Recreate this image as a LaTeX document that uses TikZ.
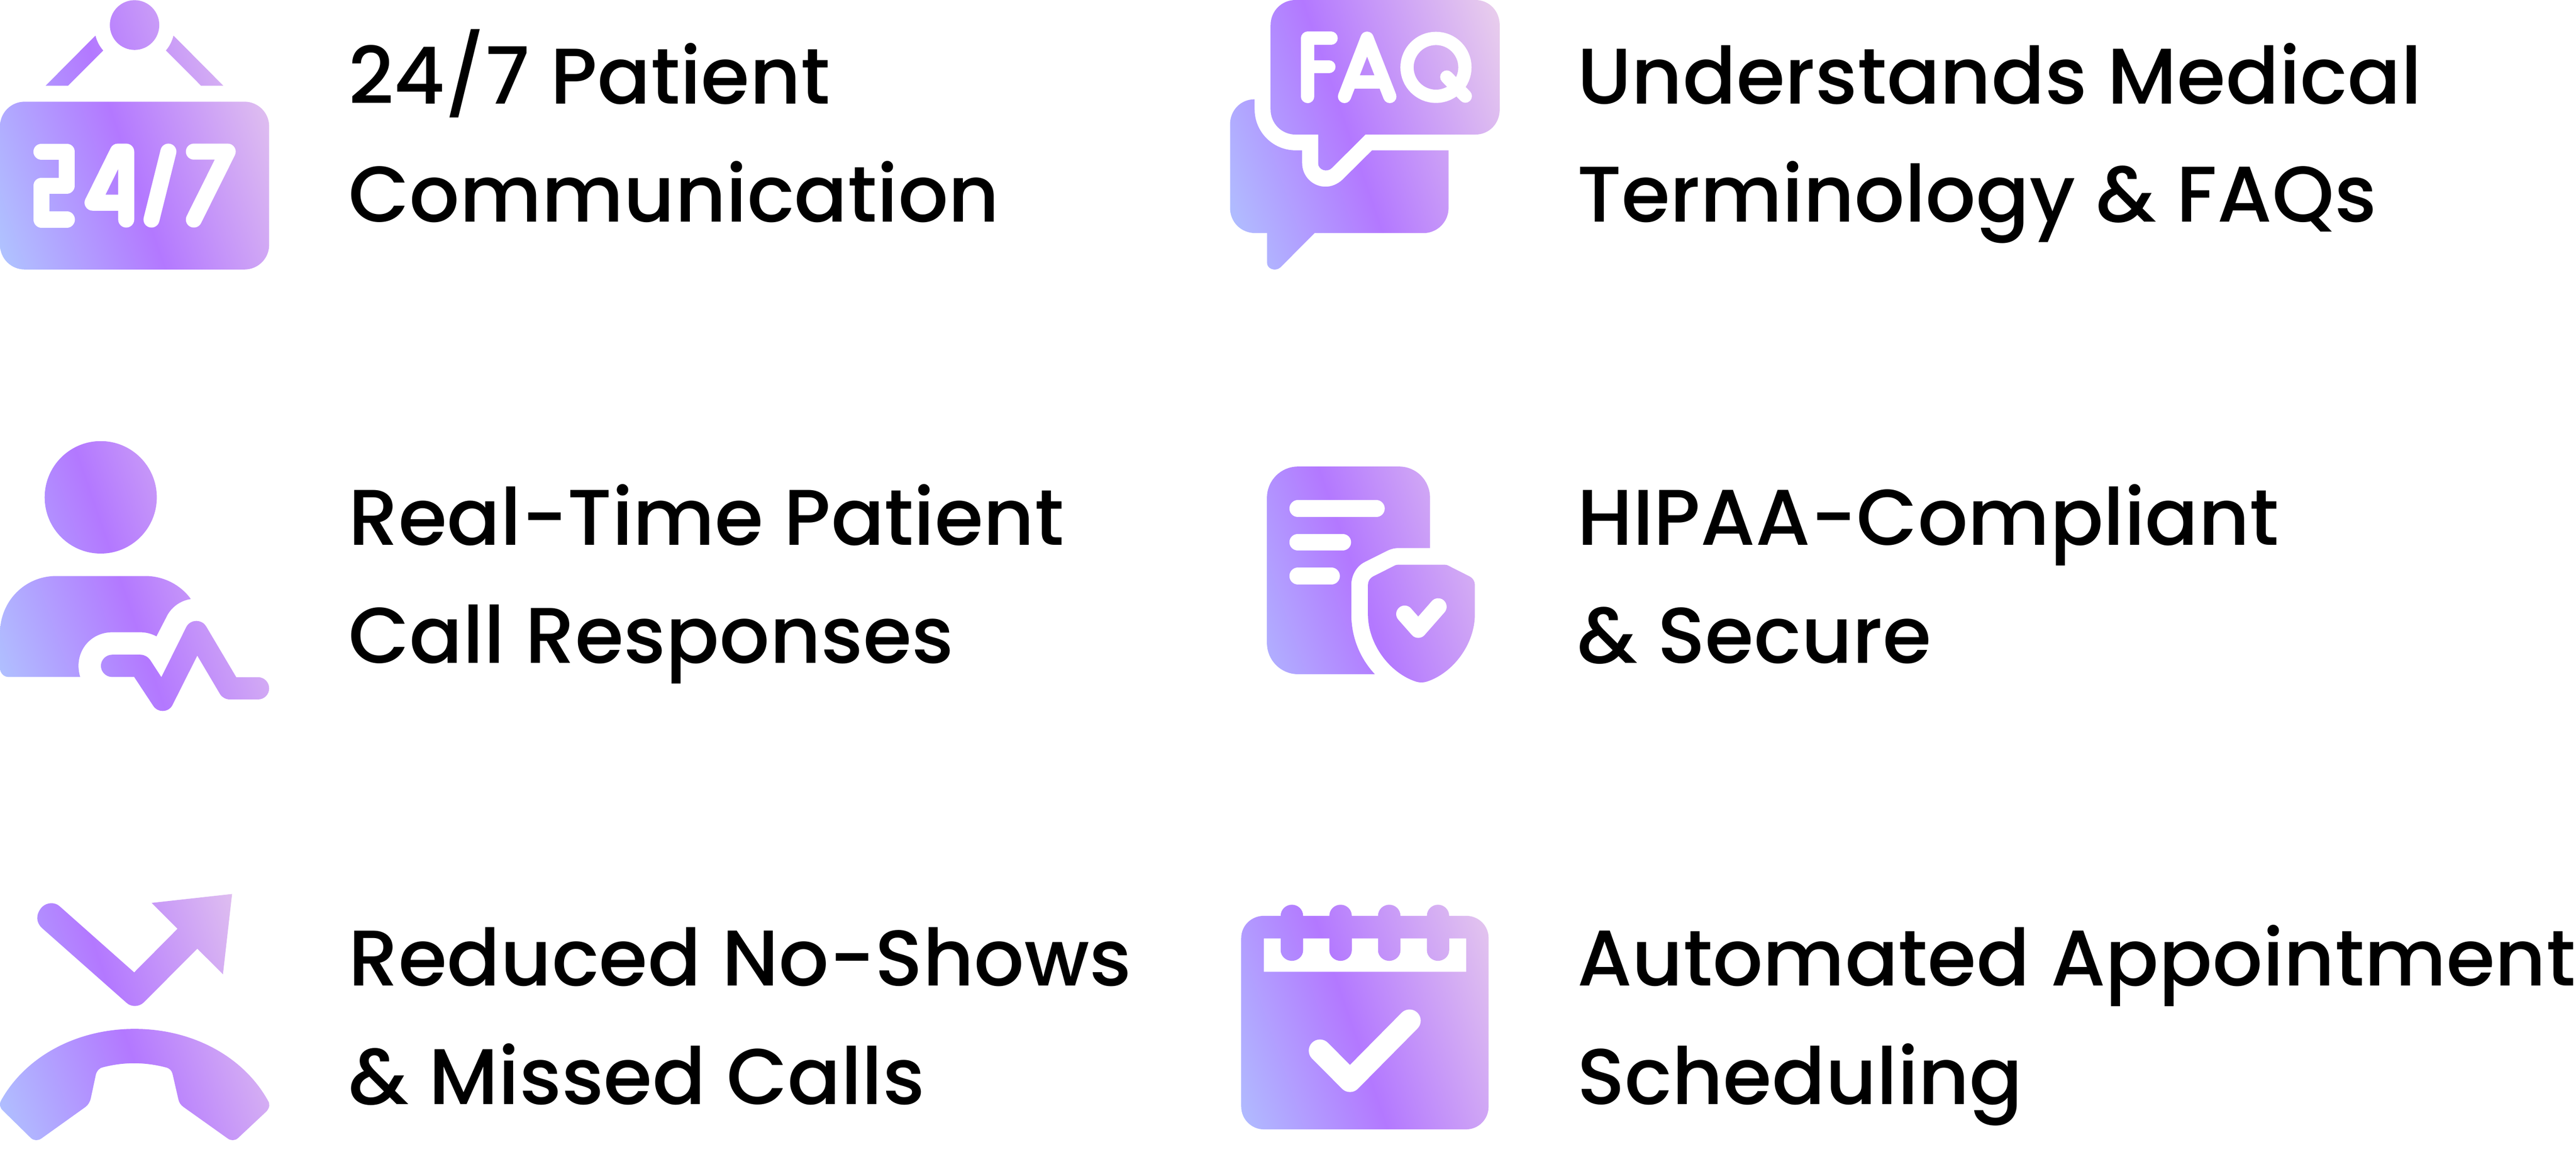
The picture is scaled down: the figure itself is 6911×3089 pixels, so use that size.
\documentclass[tikz,border=0pt]{standalone}
\usepackage{fontspec}
\setmainfont{Poppins}[UprightFont=* Medium]
\definecolor{gA}{HTML}{B0C6FF}
\definecolor{gB}{HTML}{B378FF}
\definecolor{gC}{HTML}{EAD0EC}
\pgfdeclarehorizontalshading{iconfade}{100bp}{color(0bp)=(gA); color(27bp)=(gA); color(48bp)=(gB); color(73bp)=(gC); color(100bp)=(gC)}
\newcommand{\iconfill}[2]{\shade[shading=iconfade, shading angle=19] ({#1-500},{#2-500}) rectangle ({#1+500},{#2+500});}
\tikzset{
  x=0.01cm, y=-0.01cm,
  caption/.style={anchor=base west, inner sep=0pt, outer sep=0pt, font=\fontsize{60.2pt}{70pt}\selectfont, text=black},
  za/.style={shift={(0,0)}, x=0.005102cm, y=-0.004975cm},
  zb/.style={shift={(3240,0)}, x=0.005357cm, y=-0.004975cm},
  zc/.style={shift={(0,1150)}, x=0.005102cm, y=-0.004975cm},
  zd/.style={shift={(3300,1200)}, x=0.004847cm, y=-0.004337cm},
  ze/.style={shift={(0,2340)}, x=0.005102cm, y=-0.004778cm},
  zf/.style={shift={(3280,2380)}, x=0.004847cm, y=-0.004521cm},
  mark stroke/.style={draw=white, line cap=round, line join=round},
}
\begin{document}
\begin{tikzpicture}
\useasboundingbox (0,0) rectangle (6911,3089);
\fill[white] (0,0) rectangle (6911,3089);

% ---- 24/7 sign
\begin{scope}
\clip[za] (708,135) circle [x radius=130, y radius=134]
  (240,462) -- (502,192) .. controls (510,222) and (522,248) .. (543,272) -- (358,462) -- cycle
  (1175,462) -- (913,192) .. controls (905,222) and (893,248) .. (873,272) -- (1058,462) -- cycle
  [rounded corners=0.66cm] (0,548) -- (1416,548) -- (1416,1452) -- (0,1452) -- cycle;
\iconfill{361}{361}
\end{scope}
\begin{scope}[za, mark stroke, line width=0.43cm]
\draw (218,817) -- (352,817) -- (352,1000) -- (218,1000) -- (218,1183) -- (352,1183);
\draw (664,1183) -- (664,817) -- (620,817) -- (487,1092) -- (664,1092);
\draw (886,817) -- (797,1183);
\draw (1020,817) -- (1198,817) -- (1020,1183);
\end{scope}

% ---- FAQ bubbles
\begin{scope}
\clip[zb] (440,0) -- (1340,0) .. controls (1410,0) and (1462,60) .. (1462,135) -- (1462,590) .. controls (1462,665) and (1410,725) .. (1340,725) -- (790,725) -- (622,905) .. controls (598,932) and (553,915) .. (553,880) -- (553,725) -- (440,725) .. controls (370,725) and (315,665) .. (315,590) -- (315,135) .. controls (315,60) and (370,0) .. (440,0) -- cycle
 (235,535) .. controls (165,535) and (112,595) .. (112,670) -- (112,1120) .. controls (112,1195) and (165,1256) .. (240,1256) -- (297,1256) -- (297,1415) .. controls (297,1450) and (340,1465) .. (365,1440) -- (535,1256) -- (1080,1256) .. controls (1150,1256) and (1206,1195) .. (1206,1120) -- (1206,810) -- (823,810) -- (675,968) .. controls (650,993) and (620,1006) .. (590,1006) .. controls (525,1006) and (473,950) .. (473,880) -- (473,810) -- (440,810) .. controls (325,810) and (235,710) .. (235,590) -- cycle;
\iconfill{3661}{362}
\end{scope}
\begin{scope}[zb, mark stroke, line width=0.355cm]
\draw (501,520) -- (501,206) -- (618,206);
\draw (501,360) -- (607,360);
\draw (685,520) -- (798,206) -- (912,520);
\draw (735,442) -- (865,442);
\draw (1143,363) circle [x radius=145, y radius=156];
\draw (1197,415) -- (1290,518);
\end{scope}

% ---- Person with pulse
\begin{scope}
\clip[zc] (530,369) circle [x radius=295, y radius=303]
 (422,1337) -- (45,1337) .. controls (20,1337) and (0,1315) .. (0,1290) -- (0,1100) .. controls (0,930) and (130,793) .. (295,793) -- (765,793) .. controls (860,793) and (950,840) .. (1004,917) .. controls (950,925) and (900,960) .. (875,1015) -- (823,1118) .. controls (800,1105) and (770,1096) .. (740,1096) -- (590,1096) .. controls (490,1096) and (413,1175) .. (413,1277) .. controls (413,1297) and (416,1318) .. (422,1337) -- cycle
 (590,1217) -- (738,1217) .. controls (760,1217) and (778,1228) .. (790,1245) -- (849,1338) -- (980,1068) .. controls (990,1048) and (1010,1035) .. (1033,1035) .. controls (1055,1035) and (1075,1047) .. (1085,1065) -- (1243,1338) -- (1357,1338) .. controls (1390,1338) and (1416,1365) .. (1416,1398) .. controls (1416,1432) and (1390,1458) .. (1357,1458) -- (1210,1458) .. controls (1188,1458) and (1168,1447) .. (1157,1428) -- (1038,1222) -- (908,1487) .. controls (898,1508) and (878,1520) .. (856,1520) .. controls (835,1520) and (817,1510) .. (806,1492) -- (706,1337) -- (590,1337) .. controls (558,1337) and (531,1310) .. (531,1277) .. controls (531,1244) and (558,1217) .. (590,1217) -- cycle;
\iconfill{361}{1544}
\end{scope}

% ---- Document and shield
\begin{scope}
\clip[zd] (375,118) -- (935,118) .. controls (1030,118) and (1105,205) .. (1105,310) -- (1105,622) -- (930,622) .. controls (910,622) and (890,627) .. (870,638) -- (745,708) .. controls (700,732) and (670,790) .. (670,850) -- (670,1030) .. controls (670,1170) and (715,1300) .. (800,1402) -- (375,1402) .. controls (280,1402) and (204,1315) .. (204,1210) -- (204,310) .. controls (204,205) and (280,118) .. (375,118) -- cycle
 (930,725) -- (1185,725) .. controls (1195,725) and (1200,727) .. (1210,733) -- (1325,798) .. controls (1342,808) and (1353,828) .. (1353,850) -- (1353,1030) .. controls (1353,1220) and (1230,1395) .. (1090,1447) .. controls (1070,1455) and (1045,1455) .. (1025,1447) .. controls (885,1395) and (762,1220) .. (762,1030) -- (762,850) .. controls (762,828) and (773,808) .. (790,798) -- (905,733) .. controls (915,727) and (920,725) .. (930,725) -- cycle;
\iconfill{3678}{1541}
\end{scope}
\begin{scope}[zd, mark stroke, line width=0.455cm]
\draw (375,378) -- (808,378);
\draw (375,586) -- (622,586);
\draw (375,795) -- (560,795);
\draw (965,1030) -- (1040,1125) -- (1150,985);
\end{scope}

% ---- Arrow and phone
\begin{scope}
\clip[ze] (315,190) -- (706,560) -- (934,315) -- (798,170) -- (1221,120) -- (1173,570) -- (1038,427) -- (757,728) .. controls (730,755) and (690,755) .. (665,730) -- (222,312) .. controls (190,282) and (185,235) .. (222,192) .. controls (250,165) and (290,165) .. (315,190) -- cycle
 (708,877) .. controls (1010,877) and (1280,1030) .. (1410,1280) .. controls (1422,1300) and (1418,1320) .. (1402,1340) -- (1252,1490) .. controls (1235,1505) and (1215,1505) .. (1198,1492) -- (965,1315) .. controls (950,1303) and (942,1290) .. (938,1270) -- (908,1130) .. controls (903,1110) and (892,1098) .. (872,1093) .. controls (760,1062) and (650,1062) .. (540,1093) .. controls (520,1098) and (510,1115) .. (505,1130) -- (477,1270) .. controls (473,1285) and (465,1303) .. (450,1315) -- (218,1492) .. controls (200,1505) and (180,1505) .. (163,1490) -- (15,1335) .. controls (0,1320) and (-5,1300) .. (5,1280) .. controls (135,1030) and (405,877) .. (708,877) -- cycle;
\iconfill{361}{2728}
\end{scope}

% ---- Calendar
\begin{scope}
\clip[zf] (103,300) .. controls (103,225) and (160,168) .. (228,168)
 -- (321,168) .. controls (321,130) and (350,102) .. (383,102) .. controls (416,102) and (445,130) .. (445,168)
 -- (590,168) .. controls (590,130) and (619,102) .. (652,102) .. controls (685,102) and (714,130) .. (714,168)
 -- (859,168) .. controls (859,130) and (888,102) .. (921,102) .. controls (954,102) and (983,130) .. (983,168)
 -- (1129,168) .. controls (1129,130) and (1158,102) .. (1190,102) .. controls (1223,102) and (1252,130) .. (1252,168)
 -- (1346,168) .. controls (1414,168) and (1470,225) .. (1470,300) -- (1470,1300) .. controls (1470,1375) and (1414,1435) .. (1346,1435) -- (228,1435) .. controls (160,1435) and (103,1375) .. (103,1300) -- cycle
 (228,302) -- (228,500) -- (1346,500) -- (1346,302) -- (1252,302) -- (1252,372) .. controls (1252,408) and (1223,435) .. (1190,435) .. controls (1158,435) and (1129,408) .. (1129,372) -- (1129,302)
 -- (983,302) -- (983,372) .. controls (983,408) and (954,435) .. (921,435) .. controls (888,435) and (859,408) .. (859,372) -- (859,302)
 -- (714,302) -- (714,372) .. controls (714,408) and (685,435) .. (652,435) .. controls (619,435) and (590,408) .. (590,372) -- (590,302)
 -- (445,302) -- (445,372) .. controls (445,408) and (416,435) .. (383,435) .. controls (350,435) and (321,408) .. (321,372) -- (321,302) -- cycle;
\iconfill{3661}{2727}
\end{scope}
\begin{scope}[zf, mark stroke, line width=0.60cm]
\draw (538,968) -- (704,1147) -- (1033,790);
\end{scope}

% ---- Captions
\node[caption] (t1a) at (935,278) {24/7 Patient};
\node[caption] (t1b) at (935,595) {Communication};
\node[caption] (t2a) at (935,1461) {Real-Time Patient};
\node[caption] (t2b) at (935,1778) {Call Responses};
\node[caption] (t3a) at (935,2644) {Reduced No-Shows};
\node[caption] (t3b) at (935,2961) {\& Missed Calls};
\node[caption] (t4a) at (4231,278) {Understands Medical};
\node[caption] (t4b) at (4231,595) {Terminology \& FAQs};
\node[caption] (t5a) at (4231,1461) {HIPAA-Compliant};
\node[caption] (t5b) at (4231,1778) {\& Secure};
\node[caption] (t6a) at (4231,2644) {Automated Appointment};
\node[caption] (t6b) at (4231,2961) {Scheduling};
\end{tikzpicture}
\end{document}
